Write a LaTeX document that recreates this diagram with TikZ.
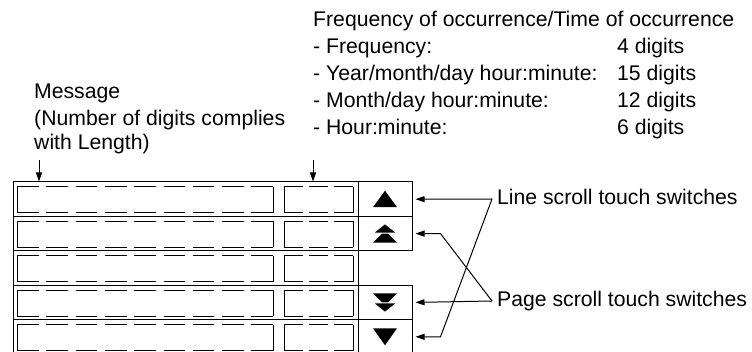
\documentclass[tikz,border=0pt]{standalone}
\usepackage{fontspec}
\setmainfont{Liberation Sans}
\usetikzlibrary{arrows.meta,calc}
\tikzset{
  >={Triangle[length=9pt,width=6pt]},
  txt/.style={inner sep=0pt,anchor=base west,font=\fontsize{21.2}{25}\selectfont},
  sidetxt/.style={txt,anchor=west,inner xsep=5pt,text height=15pt,text depth=4pt},
  rowcell/.style={draw,line width=1pt,minimum width=345pt,minimum height=34.4pt,inner sep=0pt},
  swcell/.style={draw,line width=1pt,minimum width=54pt,minimum height=34.4pt,inner sep=0pt},
  edge/.style={line width=1pt},
  msgdash/.style={line width=1pt,dash pattern=on 21.6pt off 7.7pt},
  timedash/.style={line width=1pt,dash pattern=on 19pt off 6pt},
  tri/.style={fill=black},
  tritop/.style={fill=black,draw=white,line width=1pt},
  ptr/.style={-{Triangle[length=9pt,width=6pt]},line width=1pt},
}
\begin{document}
\begin{tikzpicture}[x=1pt,y=-1pt]
  \useasboundingbox (0,0) rectangle (752,352);
  % texts above the display
  \node[txt] (fhead) at (313,27) {Frequency of occurrence/Time of occurrence};
  \node[txt] (f1) at (313,54) {- Frequency:};
  \node[txt] (f2) at (313,81) {- Year/month/day hour:minute:};
  \node[txt] (f3) at (313,108) {- Month/day hour:minute:};
  \node[txt] (f4) at (313,135) {- Hour:minute:};
  \node[txt] (d1) at (617,54) {4 digits};
  \node[txt] (d2) at (617,81) {15 digits};
  \node[txt] (d3) at (617,108) {12 digits};
  \node[txt] (d4) at (617,135) {6 digits};
  \node[txt] (msga) at (34,99) {Message};
  \node[txt] (msgb) at (34,126) {(Number of digits complies};
  \node[txt] (msgc) at (34,150) {with Length)};
  % display rows
  \foreach \i in {1,...,5}{
    \pgfmathsetmacro\yt{182+34.4*(\i-1)}
    \node[rowcell] (r\i) at (185.5,\yt+17.2) {};
    \draw[edge] (17,\yt+5) -- (17,\yt+31);
    \draw[edge] (273,\yt+5) -- (273,\yt+31);
    \draw[msgdash] (17,\yt+5) -- (273,\yt+5);
    \draw[msgdash] (17,\yt+31) -- (273,\yt+31);
    \draw[edge] (284,\yt+5) -- (284,\yt+31);
    \draw[edge] (353,\yt+5) -- (353,\yt+31);
    \draw[timedash] (284,\yt+5) -- (353,\yt+5);
    \draw[timedash] (284,\yt+31) -- (353,\yt+31);
  }
  \foreach \i in {1,2,4,5}{
    \node[swcell] (s\i) at (385,{182+34.4*(\i-1)+17.2}) {};
  }
  % switch symbols
  \begin{scope}[shift={(s1)}]
    \fill[tri] (-12,8) -- (0,-8.5) -- (12,8) -- cycle;
  \end{scope}
  \begin{scope}[shift={(s2)}]
    \fill[tri] (-12,9) -- (0,-3) -- (12,9) -- cycle;
    \filldraw[tritop] (-12,-0.5) -- (0,-10) -- (12,-0.5) -- cycle;
  \end{scope}
  \begin{scope}[shift={(s4)}]
    \fill[tri] (-12,-9) -- (0,3) -- (12,-9) -- cycle;
    \filldraw[tritop] (-12,0.5) -- (0,10) -- (12,0.5) -- cycle;
  \end{scope}
  \begin{scope}[shift={(s5)}]
    \fill[tri] (-12,-8.5) -- (0,8.5) -- (12,-8.5) -- cycle;
  \end{scope}
  % labels at the right
  \node[sidetxt] (lss) at (492,199) {Line scroll touch switches};
  \node[sidetxt] (pss) at (492,301) {Page scroll touch switches};
  \draw[ptr] (lss.west) -- ([xshift=3pt]s1.east);
  \draw[ptr] (lss.west) -- ([xshift=28pt]s5.east) -- ([xshift=3pt]s5.east);
  \draw[ptr] (pss.west) -- ([xshift=3pt]s4.east);
  \draw[ptr] (pss.west) -- ([xshift=28pt]s2.east) -- ([xshift=3pt]s2.east);
  % arrows down to the display
  \coordinate (msgtail) at (39,160);
  \coordinate (hrtail) at (313,160);
  \draw[ptr] (msgtail) -- (msgtail |- r1.north);
  \draw[ptr] (hrtail) -- (hrtail |- r1.north);
\end{tikzpicture}
\end{document}
